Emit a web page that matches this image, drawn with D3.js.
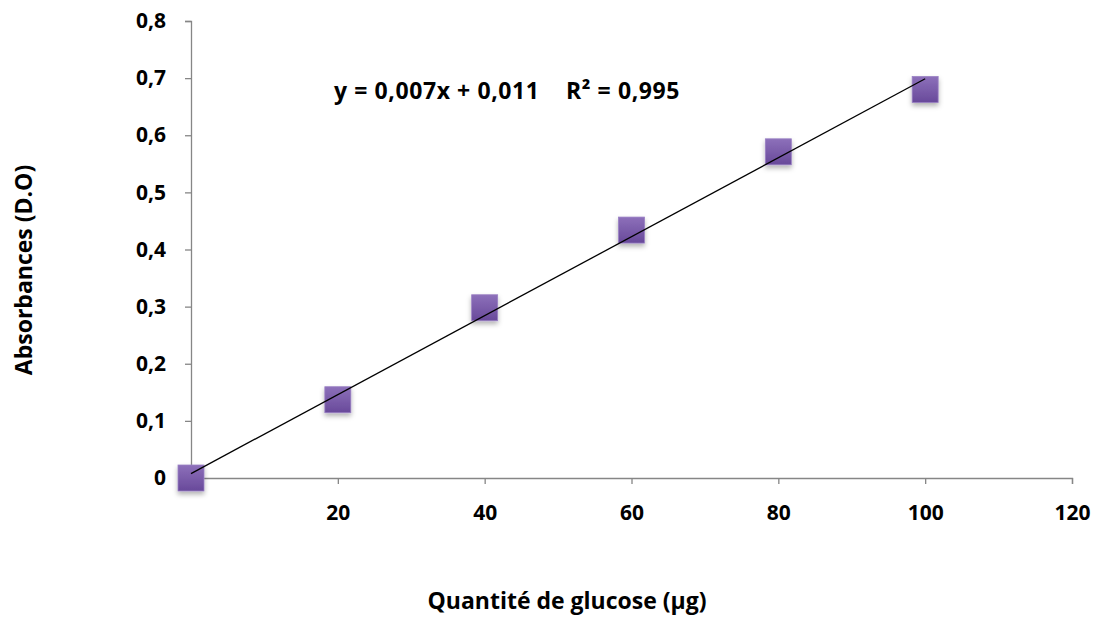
<!DOCTYPE html>
<html>
<head>
<meta charset="utf-8">
<script src="https://cdn.jsdelivr.net/npm/d3@7"></script>
<style>
  html, body { margin: 0; padding: 0; background: #fff; }
  svg { display: block; font-family: "Open Sans", "Noto Sans", sans-serif; }
</style>
</head>
<body>
<svg id="chart" width="1097" height="643"></svg>
<script>
// Data
const glucose = [0, 20, 40, 60, 80, 100];
const absorbance = [0, 0.137, 0.298, 0.434, 0.571, 0.680];
const xTicks = [20, 40, 60, 80, 100, 120];
const yTicks = [0, 0.1, 0.2, 0.3, 0.4, 0.5, 0.6, 0.7, 0.8];
const equationLabel = "y = 0,007x + 0,011    R² = 0,995";
const xTitle = "Quantité de glucose (µg)";
const yTitle = "Absorbances (D.O)";

const svg = d3.select("#chart");
const x = d3.scaleLinear().domain([0, 120]).range([191, 1072]);
const y = d3.scaleLinear().domain([0, 0.8]).range([478, 21]);
const fmt = v => d3.format(".1f")(v).replace(".", ",");

const defs = svg.append("defs");
const grad = defs.append("linearGradient").attr("id", "mk").attr("x1", 0).attr("y1", 0).attr("x2", 0).attr("y2", 1);
grad.append("stop").attr("offset", "0%").attr("stop-color", "#8d70ba");
grad.append("stop").attr("offset", "100%").attr("stop-color", "#68499a");
const filt = defs.append("filter").attr("id", "sh").attr("x", "-50%").attr("y", "-50%").attr("width", "200%").attr("height", "200%");
filt.append("feDropShadow").attr("dx", 0).attr("dy", 3).attr("stdDeviation", 2.5).attr("flood-color", "#000").attr("flood-opacity", 0.3);

// Axes
const xAxis = svg.append("g").attr("transform", `translate(0,${y(0)})`)
  .call(d3.axisBottom(x).tickValues(xTicks).tickSize(6).tickPadding(21).tickFormat(d3.format("d")));
const yAxis = svg.append("g").attr("transform", `translate(${x(0)},0)`)
  .call(d3.axisLeft(y).tickValues(yTicks).tickSize(6).tickPadding(19).tickFormat(v => v === 0 ? "0" : fmt(v)));
[xAxis, yAxis].forEach(g => {
  g.selectAll("path.domain").attr("stroke", "#868686").attr("stroke-width", 1.3);
  g.selectAll(".tick line").attr("stroke", "#868686").attr("stroke-width", 1.3);
  g.selectAll("text").attr("fill", "#000").style("font-size", "21px").style("font-weight", "bold")
    .style("font-family", '"Open Sans", sans-serif');
});

// Markers
svg.append("g").selectAll("rect").data(glucose).join("rect")
  .attr("x", (d) => x(d) - 13)
  .attr("y", (d, i) => y(absorbance[i]) - 13)
  .attr("width", 26).attr("height", 26)
  .attr("fill", "url(#mk)")
  .attr("stroke", "#9a80c4").attr("stroke-width", 0.8)
  .attr("filter", "url(#sh)");

// Linear trend line (least squares from data)
const mx = d3.mean(glucose), my = d3.mean(absorbance);
const sxy = d3.sum(glucose.map((g, i) => (g - mx) * (absorbance[i] - my)));
const sxx = d3.sum(glucose.map(g => (g - mx) ** 2));
const slope = sxy / sxx, intercept = my - slope * mx;
const xs = [0, 100];
svg.append("path")
  .attr("d", d3.line()(xs.map(v => [x(v), y(intercept + slope * v)])))
  .attr("stroke", "#000").attr("stroke-width", 1.3).attr("fill", "none");

// Equation label
svg.append("text").attr("x", 507).attr("y", 99).attr("text-anchor", "middle")
  .style("font-size", "23px").style("font-weight", "bold").style("white-space", "pre")
  .style("letter-spacing", "0.6px")
  .attr("xml:space", "preserve")
  .text(equationLabel);

// Titles
svg.append("text").attr("x", 567).attr("y", 609).attr("text-anchor", "middle")
  .style("font-size", "23px").style("font-weight", "bold").text(xTitle);
svg.append("text").attr("transform", "translate(32,270) rotate(-90)").attr("text-anchor", "middle")
  .style("font-size", "23px").style("font-weight", "bold").text(yTitle);
</script>
</body>
</html>
